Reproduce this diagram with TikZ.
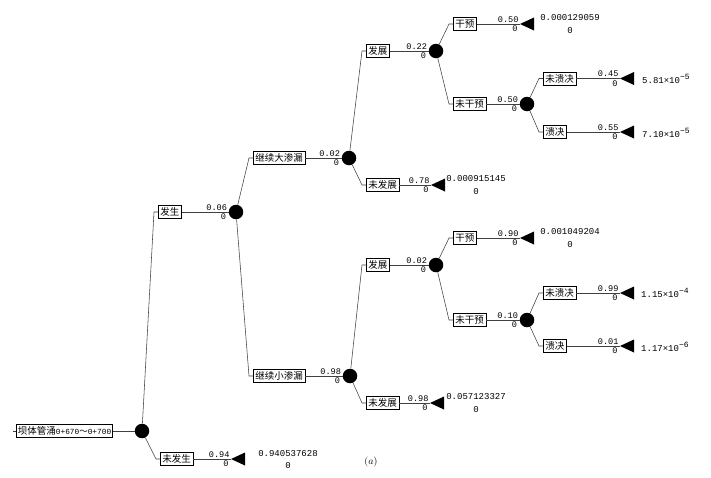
\documentclass[tikz,border=0pt]{standalone}
\usepackage{fontspec}
\setmonofont{Liberation Mono}
\newfontfamily\cjk{Noto Sans CJK SC}
\usetikzlibrary{calc}
\newcommand\tri[2]{\coordinate (#1) at #2; \fill (#1) -- ++(14,-6.5) -- ++(0,13) -- cycle;}
\newcommand\elab[2]{%
  \node[num,anchor=south east] at ($(#1)+(-1,-1.2)$) {#2};
  \node[num,anchor=north east] at ($(#1)+(-2,1.5)$) {0};}
\newcommand\link[2]{\draw[conn] (#1) -- ($(#2.west)+(-4,0)$) -- (#2.west);}
\newcommand\expo[1]{\raisebox{4pt}{\fontsize{8}{8}\selectfont\char"2212\relax#1}}
\newcommand\rootdig[1]{{\ttfamily\fontsize{7.8}{9}\selectfont #1}}
\begin{document}
\begin{tikzpicture}[x=1pt,y=-1pt,
  box/.style={draw=black,line width=0.8pt,font=\cjk\fontsize{9.5}{10}\selectfont,
    inner xsep=2pt,inner ysep=1.5pt,minimum height=13pt,anchor=west},
  chance/.style={circle,fill=black,minimum size=14.5pt,inner sep=0pt},
  conn/.style={draw=black!75,line width=0.55pt},
  num/.style={font=\ttfamily\fontsize{8.6}{9}\selectfont,inner sep=0.3pt},
  val/.style={font=\ttfamily\fontsize{9}{10}\selectfont,inner sep=0pt}]
\useasboundingbox (0,0) rectangle (711,477);
% root
\coordinate (start) at (13,431);
\node[box,inner xsep=1.5pt] (root) at (16,431) {坝体管涌\rootdig{0+670}{\fontsize{8.5}{9}\selectfont ～}\rootdig{0+700}};
\node[chance] (c1) at (142,431) {};
\draw[conn] (start) -- (root.west);
\draw[conn] (root) -- (c1);
% level 1
\node[box] (fs) at (158,212) {发生};
\node[box] (wfs) at (160,459) {未发生};
\link{c1}{fs}
\link{c1}{wfs}
\node[chance] (c2) at (236,212) {};
\draw[conn] (fs) -- (c2); \elab{c2.west}{0.06}
\tri{t0}{(231,459)}
\draw[conn] (wfs) -- (t0); \elab{t0}{0.94}
\node[val] at (288,454) {0.940537628};
\node[val] at (288,466) {0};
% level 2
\node[box] (dsl) at (253,158) {继续大渗漏};
\node[box] (xsl) at (253,376) {继续小渗漏};
\link{c2}{dsl}
\link{c2}{xsl}
\node[chance] (c3) at (349,158) {};
\node[chance] (c4) at (350,376) {};
\draw[conn] (dsl) -- (c3); \elab{c3.west}{0.02}
\draw[conn] (xsl) -- (c4); \elab{c4.west}{0.98}
% upper branch
\node[box] (fz1) at (366,51) {发展};
\node[box] (wfz1) at (366,185) {未发展};
\link{c3}{fz1}
\link{c3}{wfz1}
\node[chance] (c5) at (436,51) {};
\draw[conn] (fz1) -- (c5); \elab{c5.west}{0.22}
\tri{t4}{(431,185)}
\draw[conn] (wfz1) -- (t4); \elab{t4}{0.78}
\node[val] at (476,179) {0.000915145};
\node[val] at (476,192) {0};
\node[box] (gy1) at (453,24) {干预};
\node[box] (wgy1) at (453,104) {未干预};
\link{c5}{gy1}
\link{c5}{wgy1}
\tri{t1}{(520,24)}
\draw[conn] (gy1) -- (t1); \elab{t1}{0.50}
\node[val] at (570,18) {0.000129059};
\node[val] at (570,31) {0};
\node[chance] (c6) at (527,104) {};
\draw[conn] (wgy1) -- (c6); \elab{c6.west}{0.50}
\node[box] (wkj1) at (543,78.5) {未溃决};
\node[box] (kj1) at (543,132) {溃决};
\link{c6}{wkj1}
\link{c6}{kj1}
\tri{t2}{(620,78.5)}
\tri{t3}{(620,132)}
\draw[conn] (wkj1) -- (t2); \elab{t2}{0.45}
\draw[conn] (kj1) -- (t3); \elab{t3}{0.55}
\node[val,anchor=west] at (642,79) {5.81×10\expo{5}};
\node[val,anchor=west] at (642,132.5) {7.10×10\expo{5}};
% lower branch
\node[box] (fz2) at (366,265) {发展};
\node[box] (wfz2) at (366,403) {未发展};
\link{c4}{fz2}
\link{c4}{wfz2}
\node[chance] (c7) at (436,265) {};
\draw[conn] (fz2) -- (c7); \elab{c7.west}{0.02}
\tri{t8}{(430,403)}
\draw[conn] (wfz2) -- (t8); \elab{t8}{0.98}
\node[val] at (476,397) {0.057123327};
\node[val] at (476,410) {0};
\node[box] (gy2) at (453,238) {干预};
\node[box] (wgy2) at (453,320) {未干预};
\link{c7}{gy2}
\link{c7}{wgy2}
\tri{t5}{(520,238)}
\draw[conn] (gy2) -- (t5); \elab{t5}{0.90}
\node[val] at (570,232) {0.001049204};
\node[val] at (570,245) {0};
\node[chance] (c8) at (527,320) {};
\draw[conn] (wgy2) -- (c8); \elab{c8.west}{0.10}
\node[box] (wkj2) at (543,293) {未溃决};
\node[box] (kj2) at (543,346) {溃决};
\link{c8}{wkj2}
\link{c8}{kj2}
\tri{t6}{(620,293)}
\tri{t7}{(620,346)}
\draw[conn] (wkj2) -- (t6); \elab{t6}{0.99}
\draw[conn] (kj2) -- (t7); \elab{t7}{0.01}
\node[val,anchor=west] at (641,293) {1.15×10\expo{4}};
\node[val,anchor=west] at (641,346.5) {1.17×10\expo{6}};
% caption
\node[font=\fontsize{10}{12}\selectfont] (cap) at (371,462) {$(a)$};
\end{tikzpicture}
\end{document}
